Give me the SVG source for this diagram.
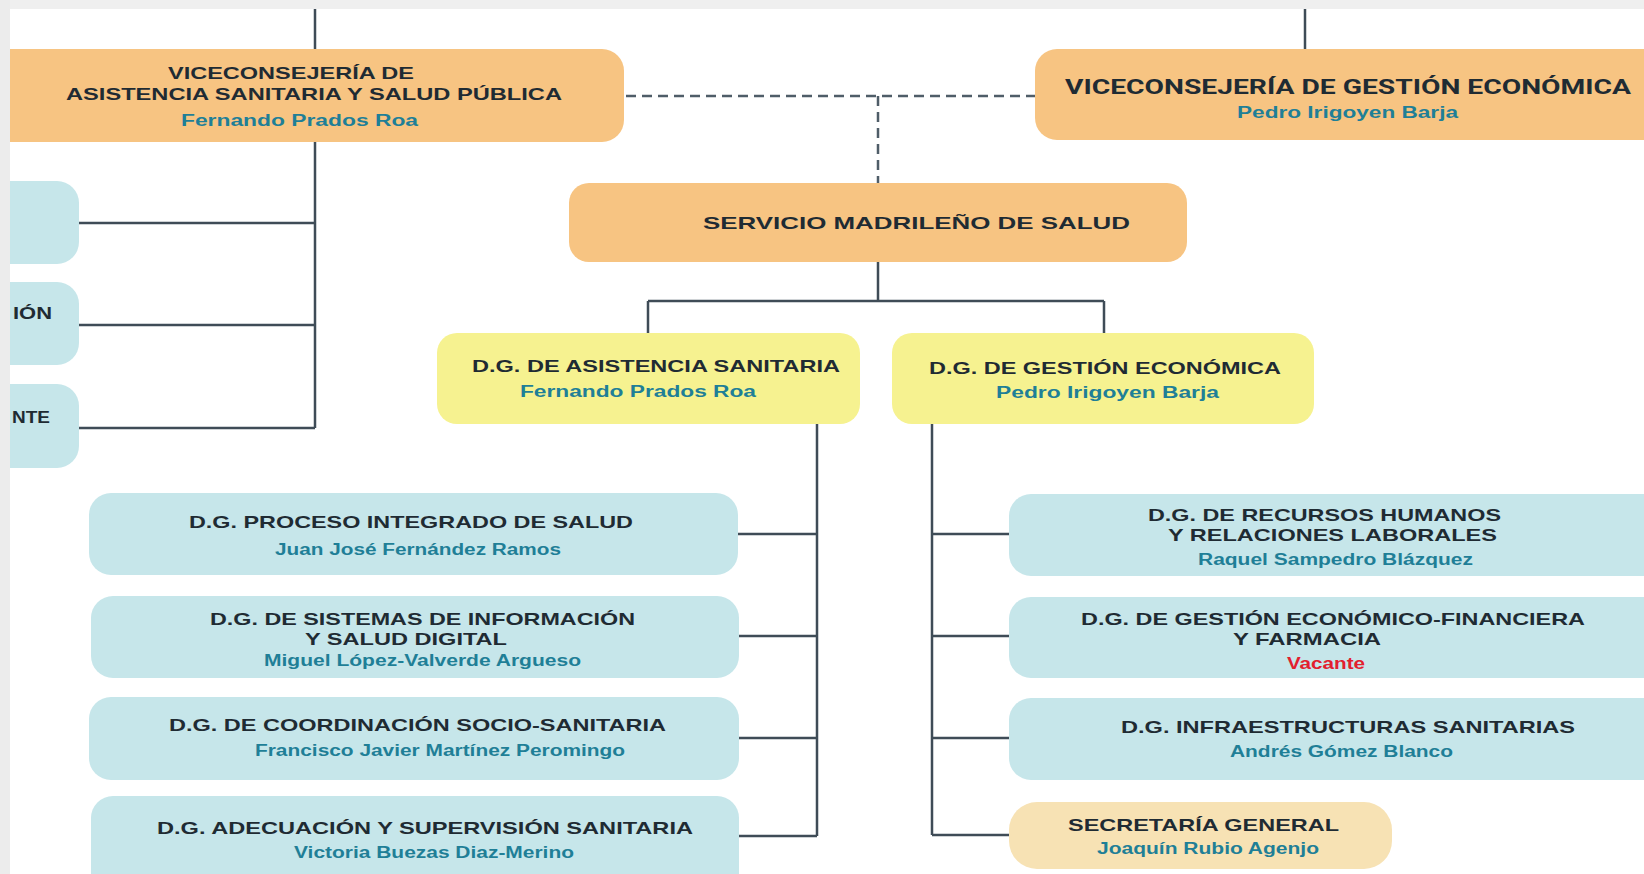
<svg xmlns="http://www.w3.org/2000/svg" width="1644" height="874" viewBox="0 0 1644 874">
<style>
.t{font-family:"Liberation Sans",Arial,sans-serif;font-weight:bold;font-size:17px;fill:#1f2b33}
.n{font-family:"Liberation Sans",Arial,sans-serif;font-weight:bold;font-size:16px;fill:#1f7f97}
.big{font-family:"Roboto","Liberation Sans",sans-serif;font-weight:bold;font-size:20px;fill:#1f2b33}
.org{fill:#f7c482}
.yel{fill:#f6f290}
.cyn{fill:#c6e6ea}
.bei{fill:#f7e2b4}
.ln{stroke:#3f4c57;stroke-width:2.5;fill:none}
.dash{stroke:#4f5d68;stroke-width:2.5;fill:none;stroke-dasharray:10 6}
</style>
<rect width="1644" height="874" fill="#ffffff"/>
<g id="connectors">
<path class="ln" d="M315 9V49M315 142V428M79 223H315M79 325H315M79 428H315"/>
<path class="ln" d="M1305 9V49"/>
<path class="dash" d="M626 96H1035M878 96V183"/>
<path class="ln" d="M878 262V301M648 301H1104M648 301V333M1104 301V333"/>
<path class="ln" d="M817 424V836M738 534H817M739 636H817M739 738H817M739 836H817"/>
<path class="ln" d="M932 424V835M932 534H1009M932 636H1009M932 738H1009M932 835H1009"/>
</g>
<g id="partial1"><rect class="cyn" x="-20" y="181" width="99" height="83" rx="22"/></g>
<g id="partial2"><rect class="cyn" x="-20" y="282" width="99" height="83" rx="22"/><text class="t" x="13" y="319" textLength="39" lengthAdjust="spacingAndGlyphs">IÓN</text></g>
<g id="partial3"><rect class="cyn" x="-20" y="384" width="99" height="84" rx="22"/><text class="t" x="12" y="423" textLength="38" lengthAdjust="spacingAndGlyphs">NTE</text></g>
<g id="vice-asistencia">
<rect class="org" x="-20" y="49" width="644" height="93" rx="22"/>
<text class="t" x="168" y="79" textLength="246" lengthAdjust="spacingAndGlyphs">VICECONSEJERÍA DE</text>
<text class="t" x="66" y="100" textLength="496" lengthAdjust="spacingAndGlyphs">ASISTENCIA SANITARIA Y SALUD PÚBLICA</text>
<text class="n" x="181" y="126" textLength="237" lengthAdjust="spacingAndGlyphs">Fernando Prados Roa</text>
</g>
<g id="vice-gestion">
<rect class="org" x="1035" y="49" width="640" height="91" rx="22"/>
<text class="big" x="1065" y="94" textLength="566" lengthAdjust="spacingAndGlyphs">VICECONSEJERÍA DE GESTIÓN ECONÓMICA</text>
<text class="n" x="1237" y="118" textLength="221" lengthAdjust="spacingAndGlyphs">Pedro Irigoyen Barja</text>
</g>
<g id="sermas">
<rect class="org" x="569" y="183" width="618" height="79" rx="20"/>
<text class="t" x="703" y="229" textLength="427" lengthAdjust="spacingAndGlyphs">SERVICIO MADRILEÑO DE SALUD</text>
</g>
<g id="dg-asistencia">
<rect class="yel" x="437" y="333" width="423" height="91" rx="20"/>
<text class="t" x="472" y="372" textLength="368" lengthAdjust="spacingAndGlyphs">D.G. DE ASISTENCIA SANITARIA</text>
<text class="n" x="520" y="397" textLength="236" lengthAdjust="spacingAndGlyphs">Fernando Prados Roa</text>
</g>
<g id="dg-gestion">
<rect class="yel" x="892" y="333" width="422" height="91" rx="20"/>
<text class="t" x="929" y="374" textLength="352" lengthAdjust="spacingAndGlyphs">D.G. DE GESTIÓN ECONÓMICA</text>
<text class="n" x="996" y="398" textLength="223" lengthAdjust="spacingAndGlyphs">Pedro Irigoyen Barja</text>
</g>
<g id="dg-proceso">
<rect class="cyn" x="89" y="493" width="649" height="82" rx="22"/>
<text class="t" x="189" y="528" textLength="444" lengthAdjust="spacingAndGlyphs">D.G. PROCESO INTEGRADO DE SALUD</text>
<text class="n" x="275" y="555" textLength="286" lengthAdjust="spacingAndGlyphs">Juan José Fernández Ramos</text>
</g>
<g id="dg-sistemas">
<rect class="cyn" x="91" y="596" width="648" height="82" rx="22"/>
<text class="t" x="210" y="625" textLength="425" lengthAdjust="spacingAndGlyphs">D.G. DE SISTEMAS DE INFORMACIÓN</text>
<text class="t" x="305" y="645" textLength="202" lengthAdjust="spacingAndGlyphs">Y SALUD DIGITAL</text>
<text class="n" x="264" y="666" textLength="317" lengthAdjust="spacingAndGlyphs">Miguel López-Valverde Argueso</text>
</g>
<g id="dg-coordinacion">
<rect class="cyn" x="89" y="697" width="650" height="83" rx="22"/>
<text class="t" x="169" y="731" textLength="497" lengthAdjust="spacingAndGlyphs">D.G. DE COORDINACIÓN SOCIO-SANITARIA</text>
<text class="n" x="255" y="756" textLength="370" lengthAdjust="spacingAndGlyphs">Francisco Javier Martínez Peromingo</text>
</g>
<g id="dg-adecuacion">
<rect class="cyn" x="91" y="796" width="648" height="100" rx="22"/>
<text class="t" x="157" y="834" textLength="536" lengthAdjust="spacingAndGlyphs">D.G. ADECUACIÓN Y SUPERVISIÓN SANITARIA</text>
<text class="n" x="294" y="858" textLength="280" lengthAdjust="spacingAndGlyphs">Victoria Buezas Diaz-Merino</text>
</g>
<g id="dg-rrhh">
<rect class="cyn" x="1009" y="494" width="660" height="82" rx="22"/>
<text class="t" x="1148" y="521" textLength="353" lengthAdjust="spacingAndGlyphs">D.G. DE RECURSOS HUMANOS</text>
<text class="t" x="1168" y="541" textLength="329" lengthAdjust="spacingAndGlyphs">Y RELACIONES LABORALES</text>
<text class="n" x="1198" y="565" textLength="275" lengthAdjust="spacingAndGlyphs">Raquel Sampedro Blázquez</text>
</g>
<g id="dg-financiera">
<rect class="cyn" x="1009" y="597" width="660" height="81" rx="22"/>
<text class="t" x="1081" y="625" textLength="504" lengthAdjust="spacingAndGlyphs">D.G. DE GESTIÓN ECONÓMICO-FINANCIERA</text>
<text class="t" x="1233" y="645" textLength="148" lengthAdjust="spacingAndGlyphs">Y FARMACIA</text>
<text class="n" x="1287" y="669" textLength="78" lengthAdjust="spacingAndGlyphs" style="fill:#e2202e">Vacante</text>
</g>
<g id="dg-infraestructuras">
<rect class="cyn" x="1009" y="698" width="660" height="82" rx="22"/>
<text class="t" x="1121" y="733" textLength="454" lengthAdjust="spacingAndGlyphs">D.G. INFRAESTRUCTURAS SANITARIAS</text>
<text class="n" x="1230" y="757" textLength="223" lengthAdjust="spacingAndGlyphs">Andrés Gómez Blanco</text>
</g>
<g id="secretaria">
<rect class="bei" x="1009" y="802" width="383" height="67" rx="28"/>
<text class="t" x="1068" y="831" textLength="271" lengthAdjust="spacingAndGlyphs">SECRETARÍA GENERAL</text>
<text class="n" x="1097" y="854" textLength="222" lengthAdjust="spacingAndGlyphs">Joaquín Rubio Agenjo</text>
</g>
<rect x="0" y="0" width="1644" height="9" fill="#efefef"/>
<rect x="0" y="0" width="10" height="874" fill="#ececec"/>
</svg>
